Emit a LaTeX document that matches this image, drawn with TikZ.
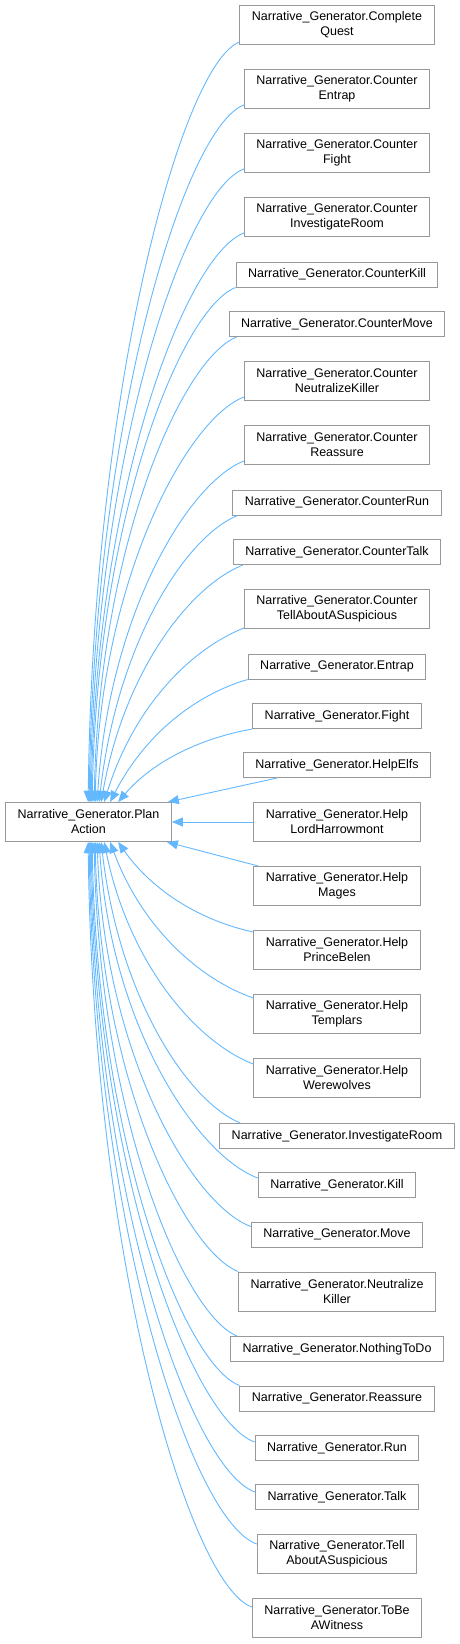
\documentclass[tikz,border=0pt]{standalone}
\usepackage{fontspec}
\setmainfont{Liberation Sans}
\usetikzlibrary{arrows.meta}
\definecolor{edgeblue}{HTML}{63B8FF}
\definecolor{boxgray}{HTML}{999999}
\tikzset{
  classbox/.style = {draw=boxgray, line width=1pt, fill=white, align=center,
                     inner xsep=12pt, inner ysep=2pt, minimum height=25pt,
                     font=\fontsize{12.5}{15}\selectfont},
  twoline/.style  = {minimum height=39pt},
  inherit/.style  = {-{Triangle[length=11pt, width=9pt]}, edgeblue,
                     line width=0.9pt},
}
\begin{document}
\begin{tikzpicture}[x=1pt, y=-1pt]
    \useasboundingbox (0,0) rectangle (460,1644);

    % --- base class ---
    \node[classbox, twoline] (pa) at (88.5,822) {Narrative\_Generator.Plan\\Action};

    % --- derived classes ---
    \node[classbox, twoline] (cq)  at (337,25)    {Narrative\_Generator.Complete\\Quest};
    \node[classbox, twoline] (cen) at (337,89)    {Narrative\_Generator.Counter\\Entrap};
    \node[classbox, twoline] (cfi) at (337,153)   {Narrative\_Generator.Counter\\Fight};
    \node[classbox, twoline] (cir) at (337,217)   {Narrative\_Generator.Counter\\InvestigateRoom};
    \node[classbox]          (cki) at (337,274.5) {Narrative\_Generator.CounterKill};
    \node[classbox]          (cmo) at (337,324)   {Narrative\_Generator.CounterMove};
    \node[classbox, twoline] (cnk) at (337,381)   {Narrative\_Generator.Counter\\NeutralizeKiller};
    \node[classbox, twoline] (cre) at (337,445)   {Narrative\_Generator.Counter\\Reassure};
    \node[classbox]          (cru) at (337,502.5) {Narrative\_Generator.CounterRun};
    \node[classbox]          (cta) at (337,552)   {Narrative\_Generator.CounterTalk};
    \node[classbox, twoline] (cte) at (337,609)   {Narrative\_Generator.Counter\\TellAboutASuspicious};
    \node[classbox]          (ent) at (337,666.5) {Narrative\_Generator.Entrap};
    \node[classbox]          (fig) at (337,716)   {Narrative\_Generator.Fight};
    \node[classbox]          (hel) at (337,765)   {Narrative\_Generator.HelpElfs};
    \node[classbox, twoline] (hlh) at (337,822)   {Narrative\_Generator.Help\\LordHarrowmont};
    \node[classbox, twoline] (hma) at (337,886)   {Narrative\_Generator.Help\\Mages};
    \node[classbox, twoline] (hpb) at (337,950)   {Narrative\_Generator.Help\\PrinceBelen};
    \node[classbox, twoline] (hte) at (337,1014)  {Narrative\_Generator.Help\\Templars};
    \node[classbox, twoline] (hwe) at (337,1078)  {Narrative\_Generator.Help\\Werewolves};
    \node[classbox]          (inv) at (337,1136)  {Narrative\_Generator.InvestigateRoom};
    \node[classbox]          (kil) at (337,1185)  {Narrative\_Generator.Kill};
    \node[classbox]          (mov) at (337,1234.5){Narrative\_Generator.Move};
    \node[classbox, twoline] (nki) at (337,1291.5){Narrative\_Generator.Neutralize\\Killer};
    \node[classbox]          (ntd) at (337,1349)  {Narrative\_Generator.NothingToDo};
    \node[classbox]          (rea) at (337,1398.5){Narrative\_Generator.Reassure};
    \node[classbox]          (run) at (337,1448)  {Narrative\_Generator.Run};
    \node[classbox]          (tal) at (337,1497)  {Narrative\_Generator.Talk};
    \node[classbox, twoline] (tas) at (337,1554)  {Narrative\_Generator.Tell\\AboutASuspicious};
    \node[classbox, twoline] (tbw) at (337,1618)  {Narrative\_Generator.ToBe\\AWitness};

    % --- inheritance edges, upper half ---
    \draw[inherit] ([yshift=3pt]cq.south west)  .. controls +(-57,22) and +(5,-418) .. ([xshift=83pt]pa.north west);
    \draw[inherit] ([yshift=4pt]cen.south west) .. controls +(-59,22) and +(5,-383) .. ([xshift=84pt]pa.north west);
    \draw[inherit] ([yshift=4pt]cfi.south west) .. controls +(-59,22) and +(5,-348) .. ([xshift=85pt]pa.north west);
    \draw[inherit] ([yshift=4pt]cir.south west) .. controls +(-58,22) and +(5,-313) .. ([xshift=86pt]pa.north west);
    \draw[inherit] (cki.south west)             .. controls +(-55,22) and +(5,-283) .. ([xshift=87pt]pa.north west);
    \draw[inherit] ([xshift=8pt]cmo.south west) .. controls +(-55,22) and +(5,-256) .. ([xshift=89pt]pa.north west);
    \draw[inherit] ([yshift=4pt]cnk.south west) .. controls +(-57,22) and +(5,-223) .. ([xshift=90pt]pa.north west);
    \draw[inherit] ([yshift=4pt]cre.south west) .. controls +(-56,22) and +(12,-188) .. ([xshift=92pt]pa.north west);
    \draw[inherit] ([xshift=5pt]cru.south west) .. controls +(-53,22) and +(18,-158) .. ([xshift=94pt]pa.north west);
    \draw[inherit] ([xshift=10pt]cta.south west) .. controls +(-54,22) and +(23,-130) .. ([xshift=96pt]pa.north west);
    \draw[inherit] ([yshift=1pt]cte.south west) .. controls +(-53,21) and +(30,-96) .. ([xshift=99pt]pa.north west);
    \draw[inherit] (ent.south west)             .. controls +(-52,15) and +(35,-68) .. ([xshift=105pt]pa.north west);
    \draw[inherit] (fig.south west)             .. controls +(-51,9) and +(35,-41) .. ([xshift=113pt]pa.north west);

    % --- straight ones next to the base ---
    \draw[inherit] ([xshift=34pt]hel.south west) -- ([xshift=-4pt]pa.north east);
    \draw[inherit] (hlh.west) -- (pa.east);
    \draw[inherit] ([xshift=5pt]hma.north west) -- ([xshift=-5pt]pa.south east);

    % --- inheritance edges, lower half ---
    \draw[inherit] ([yshift=-2pt]hpb.north west) .. controls +(-51,-11) and +(35,50) .. ([xshift=113pt]pa.south west);
    \draw[inherit] ([yshift=-4pt]hte.north west) .. controls +(-54,-19) and +(32,86) .. ([xshift=105pt]pa.south west);
    \draw[inherit] ([yshift=-6pt]hwe.north west) .. controls +(-57,-22) and +(25,122) .. ([xshift=99pt]pa.south west);
    \draw[inherit] ([xshift=21pt]inv.north west) .. controls +(-53,-22) and +(18,155) .. ([xshift=96pt]pa.south west);
    \draw[inherit] ([yshift=-6pt]kil.north west) .. controls +(-60,-22) and +(12,185) .. ([xshift=94pt]pa.south west);
    \draw[inherit] ([yshift=-5pt]mov.north west) .. controls +(-59,-22) and +(7,212) .. ([xshift=92pt]pa.south west);
    \draw[inherit] (nki.north west)              .. controls +(-54,-22) and +(5,236) .. ([xshift=90pt]pa.south west);
    \draw[inherit] ([xshift=7pt]ntd.north west)  .. controls +(-54,-22) and +(5,272) .. ([xshift=89pt]pa.south west);
    \draw[inherit] (rea.north west)              .. controls +(-56,-22) and +(5,299) .. ([xshift=87pt]pa.south west);
    \draw[inherit] ([yshift=-7pt]run.north west) .. controls +(-62,-22) and +(5,330) .. ([xshift=86pt]pa.south west);
    \draw[inherit] ([yshift=-8pt]tal.north west) .. controls +(-63,-22) and +(5,358) .. ([xshift=85pt]pa.south west);
    \draw[inherit] ([yshift=-10pt]tas.north west) .. controls +(-64,-22) and +(5,386) .. ([xshift=84pt]pa.south west);
    \draw[inherit] ([yshift=-9pt]tbw.north west) .. controls +(-62,-22) and +(5,421) .. ([xshift=83pt]pa.south west);
\end{tikzpicture}
\end{document}
